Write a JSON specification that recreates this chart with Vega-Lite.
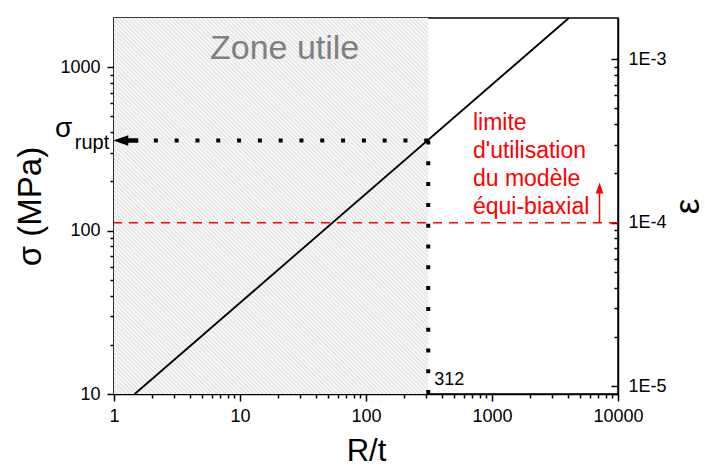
{
"$schema":"https://vega.github.io/schema/vega-lite/v6.json",
"width":504,"height":376,
"autosize":{"type":"none"},
"padding":{"left":114,"top":18,"right":87,"bottom":72},
"background":"white",
"config":{
 "view":{"stroke":"black","strokeWidth":1.5},
 "font":"Liberation Sans",
 "axis":{"grid":false,"domainColor":"black","domainWidth":1.5,"tickColor":"black","tickWidth":1.5,"labelColor":"black","titleColor":"black","labelFont":"Liberation Sans","titleFont":"Liberation Sans","labelFontSize":18,"titleFontWeight":"normal","labelFlush":false,"labelOverlap":false}
},
"layer":[
 {"layer":[
  {"data":{"values":[{"rt_from":1,"rt_to":312,"s_from":10,"s_to":2000}]},
   "mark":{"type":"rect","fill":{"gradient":"linear","x1":0,"y1":1,"x2":0.904,"y2":-0.080,"stops":[
{"offset":0.000,"color":"#dfdfdf"},{"offset":0.003,"color":"#fff"},{"offset":0.006,"color":"#dfdfdf"},{"offset":0.009,"color":"#fff"},{"offset":0.012,"color":"#dfdfdf"},{"offset":0.015,"color":"#fff"},{"offset":0.018,"color":"#dfdfdf"},{"offset":0.021,"color":"#fff"},{"offset":0.024,"color":"#dfdfdf"},{"offset":0.027,"color":"#fff"},
{"offset":0.030,"color":"#dfdfdf"},{"offset":0.033,"color":"#fff"},{"offset":0.036,"color":"#dfdfdf"},{"offset":0.039,"color":"#fff"},{"offset":0.042,"color":"#dfdfdf"},{"offset":0.045,"color":"#fff"},{"offset":0.048,"color":"#dfdfdf"},{"offset":0.051,"color":"#fff"},{"offset":0.054,"color":"#dfdfdf"},{"offset":0.057,"color":"#fff"},
{"offset":0.060,"color":"#dfdfdf"},{"offset":0.063,"color":"#fff"},{"offset":0.066,"color":"#dfdfdf"},{"offset":0.069,"color":"#fff"},{"offset":0.072,"color":"#dfdfdf"},{"offset":0.075,"color":"#fff"},{"offset":0.078,"color":"#dfdfdf"},{"offset":0.081,"color":"#fff"},{"offset":0.084,"color":"#dfdfdf"},{"offset":0.087,"color":"#fff"},
{"offset":0.090,"color":"#dfdfdf"},{"offset":0.093,"color":"#fff"},{"offset":0.096,"color":"#dfdfdf"},{"offset":0.099,"color":"#fff"},{"offset":0.102,"color":"#dfdfdf"},{"offset":0.105,"color":"#fff"},{"offset":0.108,"color":"#dfdfdf"},{"offset":0.111,"color":"#fff"},{"offset":0.114,"color":"#dfdfdf"},{"offset":0.117,"color":"#fff"},
{"offset":0.120,"color":"#dfdfdf"},{"offset":0.123,"color":"#fff"},{"offset":0.126,"color":"#dfdfdf"},{"offset":0.129,"color":"#fff"},{"offset":0.132,"color":"#dfdfdf"},{"offset":0.135,"color":"#fff"},{"offset":0.138,"color":"#dfdfdf"},{"offset":0.141,"color":"#fff"},{"offset":0.144,"color":"#dfdfdf"},{"offset":0.147,"color":"#fff"},
{"offset":0.150,"color":"#dfdfdf"},{"offset":0.153,"color":"#fff"},{"offset":0.156,"color":"#dfdfdf"},{"offset":0.159,"color":"#fff"},{"offset":0.162,"color":"#dfdfdf"},{"offset":0.165,"color":"#fff"},{"offset":0.168,"color":"#dfdfdf"},{"offset":0.171,"color":"#fff"},{"offset":0.174,"color":"#dfdfdf"},{"offset":0.177,"color":"#fff"},
{"offset":0.180,"color":"#dfdfdf"},{"offset":0.183,"color":"#fff"},{"offset":0.186,"color":"#dfdfdf"},{"offset":0.189,"color":"#fff"},{"offset":0.192,"color":"#dfdfdf"},{"offset":0.195,"color":"#fff"},{"offset":0.198,"color":"#dfdfdf"},{"offset":0.201,"color":"#fff"},{"offset":0.204,"color":"#dfdfdf"},{"offset":0.207,"color":"#fff"},
{"offset":0.210,"color":"#dfdfdf"},{"offset":0.213,"color":"#fff"},{"offset":0.216,"color":"#dfdfdf"},{"offset":0.219,"color":"#fff"},{"offset":0.222,"color":"#dfdfdf"},{"offset":0.225,"color":"#fff"},{"offset":0.228,"color":"#dfdfdf"},{"offset":0.231,"color":"#fff"},{"offset":0.234,"color":"#dfdfdf"},{"offset":0.237,"color":"#fff"},
{"offset":0.240,"color":"#dfdfdf"},{"offset":0.243,"color":"#fff"},{"offset":0.246,"color":"#dfdfdf"},{"offset":0.249,"color":"#fff"},{"offset":0.252,"color":"#dfdfdf"},{"offset":0.255,"color":"#fff"},{"offset":0.258,"color":"#dfdfdf"},{"offset":0.261,"color":"#fff"},{"offset":0.264,"color":"#dfdfdf"},{"offset":0.267,"color":"#fff"},
{"offset":0.270,"color":"#dfdfdf"},{"offset":0.273,"color":"#fff"},{"offset":0.276,"color":"#dfdfdf"},{"offset":0.279,"color":"#fff"},{"offset":0.282,"color":"#dfdfdf"},{"offset":0.285,"color":"#fff"},{"offset":0.288,"color":"#dfdfdf"},{"offset":0.291,"color":"#fff"},{"offset":0.294,"color":"#dfdfdf"},{"offset":0.297,"color":"#fff"},
{"offset":0.300,"color":"#dfdfdf"},{"offset":0.303,"color":"#fff"},{"offset":0.306,"color":"#dfdfdf"},{"offset":0.309,"color":"#fff"},{"offset":0.312,"color":"#dfdfdf"},{"offset":0.315,"color":"#fff"},{"offset":0.318,"color":"#dfdfdf"},{"offset":0.321,"color":"#fff"},{"offset":0.324,"color":"#dfdfdf"},{"offset":0.327,"color":"#fff"},
{"offset":0.330,"color":"#dfdfdf"},{"offset":0.333,"color":"#fff"},{"offset":0.336,"color":"#dfdfdf"},{"offset":0.339,"color":"#fff"},{"offset":0.342,"color":"#dfdfdf"},{"offset":0.345,"color":"#fff"},{"offset":0.348,"color":"#dfdfdf"},{"offset":0.351,"color":"#fff"},{"offset":0.354,"color":"#dfdfdf"},{"offset":0.357,"color":"#fff"},
{"offset":0.360,"color":"#dfdfdf"},{"offset":0.363,"color":"#fff"},{"offset":0.366,"color":"#dfdfdf"},{"offset":0.369,"color":"#fff"},{"offset":0.372,"color":"#dfdfdf"},{"offset":0.375,"color":"#fff"},{"offset":0.378,"color":"#dfdfdf"},{"offset":0.381,"color":"#fff"},{"offset":0.384,"color":"#dfdfdf"},{"offset":0.387,"color":"#fff"},
{"offset":0.390,"color":"#dfdfdf"},{"offset":0.393,"color":"#fff"},{"offset":0.396,"color":"#dfdfdf"},{"offset":0.399,"color":"#fff"},{"offset":0.402,"color":"#dfdfdf"},{"offset":0.405,"color":"#fff"},{"offset":0.408,"color":"#dfdfdf"},{"offset":0.411,"color":"#fff"},{"offset":0.414,"color":"#dfdfdf"},{"offset":0.417,"color":"#fff"},
{"offset":0.420,"color":"#dfdfdf"},{"offset":0.423,"color":"#fff"},{"offset":0.426,"color":"#dfdfdf"},{"offset":0.429,"color":"#fff"},{"offset":0.432,"color":"#dfdfdf"},{"offset":0.435,"color":"#fff"},{"offset":0.438,"color":"#dfdfdf"},{"offset":0.441,"color":"#fff"},{"offset":0.444,"color":"#dfdfdf"},{"offset":0.447,"color":"#fff"},
{"offset":0.450,"color":"#dfdfdf"},{"offset":0.453,"color":"#fff"},{"offset":0.456,"color":"#dfdfdf"},{"offset":0.459,"color":"#fff"},{"offset":0.462,"color":"#dfdfdf"},{"offset":0.465,"color":"#fff"},{"offset":0.468,"color":"#dfdfdf"},{"offset":0.471,"color":"#fff"},{"offset":0.474,"color":"#dfdfdf"},{"offset":0.477,"color":"#fff"},
{"offset":0.480,"color":"#dfdfdf"},{"offset":0.483,"color":"#fff"},{"offset":0.486,"color":"#dfdfdf"},{"offset":0.489,"color":"#fff"},{"offset":0.492,"color":"#dfdfdf"},{"offset":0.495,"color":"#fff"},{"offset":0.498,"color":"#dfdfdf"},{"offset":0.501,"color":"#fff"},{"offset":0.504,"color":"#dfdfdf"},{"offset":0.507,"color":"#fff"},
{"offset":0.510,"color":"#dfdfdf"},{"offset":0.513,"color":"#fff"},{"offset":0.516,"color":"#dfdfdf"},{"offset":0.519,"color":"#fff"},{"offset":0.522,"color":"#dfdfdf"},{"offset":0.525,"color":"#fff"},{"offset":0.528,"color":"#dfdfdf"},{"offset":0.531,"color":"#fff"},{"offset":0.534,"color":"#dfdfdf"},{"offset":0.537,"color":"#fff"},
{"offset":0.540,"color":"#dfdfdf"},{"offset":0.543,"color":"#fff"},{"offset":0.546,"color":"#dfdfdf"},{"offset":0.549,"color":"#fff"},{"offset":0.552,"color":"#dfdfdf"},{"offset":0.555,"color":"#fff"},{"offset":0.558,"color":"#dfdfdf"},{"offset":0.561,"color":"#fff"},{"offset":0.564,"color":"#dfdfdf"},{"offset":0.567,"color":"#fff"},
{"offset":0.570,"color":"#dfdfdf"},{"offset":0.573,"color":"#fff"},{"offset":0.576,"color":"#dfdfdf"},{"offset":0.579,"color":"#fff"},{"offset":0.582,"color":"#dfdfdf"},{"offset":0.585,"color":"#fff"},{"offset":0.588,"color":"#dfdfdf"},{"offset":0.591,"color":"#fff"},{"offset":0.594,"color":"#dfdfdf"},{"offset":0.597,"color":"#fff"},
{"offset":0.600,"color":"#dfdfdf"},{"offset":0.603,"color":"#fff"},{"offset":0.606,"color":"#dfdfdf"},{"offset":0.609,"color":"#fff"},{"offset":0.612,"color":"#dfdfdf"},{"offset":0.615,"color":"#fff"},{"offset":0.618,"color":"#dfdfdf"},{"offset":0.621,"color":"#fff"},{"offset":0.624,"color":"#dfdfdf"},{"offset":0.627,"color":"#fff"},
{"offset":0.630,"color":"#dfdfdf"},{"offset":0.633,"color":"#fff"},{"offset":0.636,"color":"#dfdfdf"},{"offset":0.639,"color":"#fff"},{"offset":0.642,"color":"#dfdfdf"},{"offset":0.645,"color":"#fff"},{"offset":0.648,"color":"#dfdfdf"},{"offset":0.651,"color":"#fff"},{"offset":0.654,"color":"#dfdfdf"},{"offset":0.657,"color":"#fff"},
{"offset":0.660,"color":"#dfdfdf"},{"offset":0.663,"color":"#fff"},{"offset":0.666,"color":"#dfdfdf"},{"offset":0.669,"color":"#fff"},{"offset":0.672,"color":"#dfdfdf"},{"offset":0.675,"color":"#fff"},{"offset":0.678,"color":"#dfdfdf"},{"offset":0.681,"color":"#fff"},{"offset":0.684,"color":"#dfdfdf"},{"offset":0.687,"color":"#fff"},
{"offset":0.690,"color":"#dfdfdf"},{"offset":0.693,"color":"#fff"},{"offset":0.696,"color":"#dfdfdf"},{"offset":0.699,"color":"#fff"},{"offset":0.702,"color":"#dfdfdf"},{"offset":0.705,"color":"#fff"},{"offset":0.708,"color":"#dfdfdf"},{"offset":0.711,"color":"#fff"},{"offset":0.714,"color":"#dfdfdf"},{"offset":0.717,"color":"#fff"},
{"offset":0.720,"color":"#dfdfdf"},{"offset":0.723,"color":"#fff"},{"offset":0.726,"color":"#dfdfdf"},{"offset":0.729,"color":"#fff"},{"offset":0.732,"color":"#dfdfdf"},{"offset":0.735,"color":"#fff"},{"offset":0.738,"color":"#dfdfdf"},{"offset":0.741,"color":"#fff"},{"offset":0.744,"color":"#dfdfdf"},{"offset":0.747,"color":"#fff"},
{"offset":0.750,"color":"#dfdfdf"},{"offset":0.753,"color":"#fff"},{"offset":0.756,"color":"#dfdfdf"},{"offset":0.759,"color":"#fff"},{"offset":0.762,"color":"#dfdfdf"},{"offset":0.765,"color":"#fff"},{"offset":0.768,"color":"#dfdfdf"},{"offset":0.771,"color":"#fff"},{"offset":0.774,"color":"#dfdfdf"},{"offset":0.777,"color":"#fff"},
{"offset":0.780,"color":"#dfdfdf"},{"offset":0.783,"color":"#fff"},{"offset":0.786,"color":"#dfdfdf"},{"offset":0.789,"color":"#fff"},{"offset":0.792,"color":"#dfdfdf"},{"offset":0.795,"color":"#fff"},{"offset":0.798,"color":"#dfdfdf"},{"offset":0.801,"color":"#fff"},{"offset":0.804,"color":"#dfdfdf"},{"offset":0.807,"color":"#fff"},
{"offset":0.810,"color":"#dfdfdf"},{"offset":0.813,"color":"#fff"},{"offset":0.816,"color":"#dfdfdf"},{"offset":0.819,"color":"#fff"},{"offset":0.822,"color":"#dfdfdf"},{"offset":0.825,"color":"#fff"},{"offset":0.828,"color":"#dfdfdf"},{"offset":0.831,"color":"#fff"},{"offset":0.834,"color":"#dfdfdf"},{"offset":0.837,"color":"#fff"},
{"offset":0.840,"color":"#dfdfdf"},{"offset":0.843,"color":"#fff"},{"offset":0.846,"color":"#dfdfdf"},{"offset":0.849,"color":"#fff"},{"offset":0.852,"color":"#dfdfdf"},{"offset":0.855,"color":"#fff"},{"offset":0.858,"color":"#dfdfdf"},{"offset":0.861,"color":"#fff"},{"offset":0.864,"color":"#dfdfdf"},{"offset":0.867,"color":"#fff"},
{"offset":0.870,"color":"#dfdfdf"},{"offset":0.873,"color":"#fff"},{"offset":0.876,"color":"#dfdfdf"},{"offset":0.879,"color":"#fff"},{"offset":0.882,"color":"#dfdfdf"},{"offset":0.885,"color":"#fff"},{"offset":0.888,"color":"#dfdfdf"},{"offset":0.891,"color":"#fff"},{"offset":0.894,"color":"#dfdfdf"},{"offset":0.897,"color":"#fff"},
{"offset":0.900,"color":"#dfdfdf"},{"offset":0.903,"color":"#fff"},{"offset":0.906,"color":"#dfdfdf"},{"offset":0.909,"color":"#fff"},{"offset":0.912,"color":"#dfdfdf"},{"offset":0.915,"color":"#fff"},{"offset":0.918,"color":"#dfdfdf"},{"offset":0.921,"color":"#fff"},{"offset":0.924,"color":"#dfdfdf"},{"offset":0.927,"color":"#fff"},
{"offset":0.930,"color":"#dfdfdf"},{"offset":0.933,"color":"#fff"},{"offset":0.936,"color":"#dfdfdf"},{"offset":0.939,"color":"#fff"},{"offset":0.942,"color":"#dfdfdf"},{"offset":0.945,"color":"#fff"},{"offset":0.948,"color":"#dfdfdf"},{"offset":0.951,"color":"#fff"},{"offset":0.954,"color":"#dfdfdf"},{"offset":0.957,"color":"#fff"},
{"offset":0.960,"color":"#dfdfdf"},{"offset":0.963,"color":"#fff"},{"offset":0.966,"color":"#dfdfdf"},{"offset":0.969,"color":"#fff"},{"offset":0.972,"color":"#dfdfdf"},{"offset":0.975,"color":"#fff"},{"offset":0.978,"color":"#dfdfdf"},{"offset":0.981,"color":"#fff"},{"offset":0.984,"color":"#dfdfdf"},{"offset":0.987,"color":"#fff"},
{"offset":0.990,"color":"#dfdfdf"},{"offset":0.993,"color":"#fff"},{"offset":0.996,"color":"#dfdfdf"},{"offset":0.999,"color":"#fff"}
]}},
   "encoding":{
    "x":{"field":"rt_from","type":"quantitative","title":"R/t","scale":{"type":"log","domain":[1,10000],"nice":false},
     "axis":{"orient":"bottom","values":[1,2,3,4,5,6,7,8,9,10,20,30,40,50,60,70,80,90,100,200,300,400,500,600,700,800,900,1000,2000,3000,4000,5000,6000,7000,8000,9000,10000],
      "labelExpr":"(datum.value == 1 || datum.value == 10 || datum.value == 100 || datum.value == 1000 || datum.value == 10000) ? format(datum.value, 'd') : ''",
      "tickSize":{"condition":{"test":"datum.value == 1 || datum.value == 10 || datum.value == 100 || datum.value == 1000 || datum.value == 10000","value":7},"value":4},
      "labelPadding":6,"titleFontSize":31,"titlePadding":11}},
    "x2":{"field":"rt_to"},
    "y":{"field":"s_from","type":"quantitative","title":"σ (MPa)","scale":{"type":"log","domain":[10,2000],"nice":false},
     "axis":{"orient":"left","values":[10,20,30,40,50,60,70,80,90,100,200,300,400,500,600,700,800,900,1000],
      "labelExpr":"(datum.value == 10 || datum.value == 100 || datum.value == 1000) ? format(datum.value, 'd') : ''",
      "tickSize":{"condition":{"test":"datum.value == 10 || datum.value == 100 || datum.value == 1000","value":7},"value":4},
      "labelPadding":7,"titleFontSize":33,"titlePadding":12}},
    "y2":{"field":"s_to"}
   }},
  {"data":{"values":[{"rt":1.46,"sigma":10},{"rt":4074,"sigma":2000}]},
   "mark":{"type":"line","color":"black","strokeWidth":1.8},
   "encoding":{"x":{"field":"rt","type":"quantitative","title":"R/t","scale":{"type":"log","domain":[1,10000],"nice":false}},
    "y":{"field":"sigma","type":"quantitative","title":"σ (MPa)","scale":{"type":"log","domain":[10,2000],"nice":false}}}},
  {"data":{"values":[{"rt":312,"rt_end":1.558,"sigma":356}]},
   "mark":{"type":"rule","color":"black","strokeWidth":4,"strokeDash":[4,16.8]},
   "encoding":{"x":{"field":"rt","type":"quantitative","title":"R/t","scale":{"type":"log","domain":[1,10000],"nice":false}},"x2":{"field":"rt_end"},
    "y":{"field":"sigma","type":"quantitative","title":"σ (MPa)","scale":{"type":"log","domain":[10,2000],"nice":false}}}},
  {"data":{"values":[{"rt":312,"sigma":356,"sigma_end":10}]},
   "mark":{"type":"rule","color":"black","strokeWidth":4,"strokeDash":[4,16.8]},
   "encoding":{"x":{"field":"rt","type":"quantitative","title":"R/t","scale":{"type":"log","domain":[1,10000],"nice":false}},
    "y":{"field":"sigma","type":"quantitative","title":"σ (MPa)","scale":{"type":"log","domain":[10,2000],"nice":false}},"y2":{"field":"sigma_end"}}},
  {"data":{"values":[{"rt":1.24,"sigma":356}]},
   "mark":{"type":"point","shape":"M-1,0L0.2,-0.42L0.2,-0.18L1,-0.18L1,0.18L0.2,0.18L0.2,0.42Z","size":625,"filled":true,"color":"black","opacity":1},
   "encoding":{"x":{"field":"rt","type":"quantitative","title":"R/t","scale":{"type":"log","domain":[1,10000],"nice":false}},
    "y":{"field":"sigma","type":"quantitative","title":"σ (MPa)","scale":{"type":"log","domain":[10,2000],"nice":false}}}},
  {"data":{"values":[{"rt":22.6,"sigma":1124,"label":"Zone utile"}]},
   "mark":{"type":"text","fontSize":34,"color":"#808080","align":"center","baseline":"alphabetic","font":"Liberation Sans"},
   "encoding":{"x":{"field":"rt","type":"quantitative","title":"R/t","scale":{"type":"log","domain":[1,10000],"nice":false}},
    "y":{"field":"sigma","type":"quantitative","title":"σ (MPa)","scale":{"type":"log","domain":[10,2000],"nice":false}},"text":{"field":"label","type":"nominal"}}},
  {"data":{"values":[{"rt":1,"sigma":356,"label":"σ"}]},
   "mark":{"type":"text","fontSize":28,"color":"black","align":"right","baseline":"alphabetic","dx":-41.7,"dy":-3,"font":"Liberation Sans"},
   "encoding":{"x":{"field":"rt","type":"quantitative","title":"R/t","scale":{"type":"log","domain":[1,10000],"nice":false}},
    "y":{"field":"sigma","type":"quantitative","title":"σ (MPa)","scale":{"type":"log","domain":[10,2000],"nice":false}},"text":{"field":"label","type":"nominal"}}},
  {"data":{"values":[{"rt":1,"sigma":356,"label":"rupt"}]},
   "mark":{"type":"text","fontSize":20,"color":"black","align":"right","baseline":"alphabetic","dx":-4.7,"dy":9,"font":"Liberation Sans"},
   "encoding":{"x":{"field":"rt","type":"quantitative","title":"R/t","scale":{"type":"log","domain":[1,10000],"nice":false}},
    "y":{"field":"sigma","type":"quantitative","title":"σ (MPa)","scale":{"type":"log","domain":[10,2000],"nice":false}},"text":{"field":"label","type":"nominal"}}},
  {"data":{"values":[{"rt":312,"sigma":10,"label":"312"}]},
   "mark":{"type":"text","fontSize":18,"color":"black","align":"left","baseline":"alphabetic","dx":6,"dy":-9,"font":"Liberation Sans"},
   "encoding":{"x":{"field":"rt","type":"quantitative","title":"R/t","scale":{"type":"log","domain":[1,10000],"nice":false}},
    "y":{"field":"sigma","type":"quantitative","title":"σ (MPa)","scale":{"type":"log","domain":[10,2000],"nice":false}},"text":{"field":"label","type":"nominal"}}},
  {"data":{"values":[{"rt":706,"sigma":410,"label":["limite","d'utilisation","du modèle","équi-biaxial"]}]},
   "mark":{"type":"text","fontSize":23,"color":"#ff0000","align":"left","baseline":"alphabetic","lineHeight":27.7,"font":"Liberation Sans"},
   "encoding":{"x":{"field":"rt","type":"quantitative","title":"R/t","scale":{"type":"log","domain":[1,10000],"nice":false}},
    "y":{"field":"sigma","type":"quantitative","title":"σ (MPa)","scale":{"type":"log","domain":[10,2000],"nice":false}},"text":{"field":"label","type":"nominal"}}}
 ]},
 {"layer":[
  {"data":{"values":[{"eps":0.0001}]},
   "mark":{"type":"rule","color":"#ff0000","strokeWidth":1.5,"strokeDash":[9,7]},
   "encoding":{"y":{"field":"eps","type":"quantitative","title":"ε","scale":{"type":"log","domain":[0.00000894,0.001788],"nice":false},
    "axis":{"orient":"right","values":[0.000009,0.00001,0.00002,0.00003,0.00004,0.00005,0.00006,0.00007,0.00008,0.00009,0.0001,0.0002,0.0003,0.0004,0.0005,0.0006,0.0007,0.0008,0.0009,0.001],
     "labelExpr":"datum.value == 0.00001 ? '1E-5' : datum.value == 0.0001 ? '1E-4' : datum.value == 0.001 ? '1E-3' : ''",
     "tickSize":{"condition":{"test":"datum.value == 0.00001 || datum.value == 0.0001 || datum.value == 0.001","value":-7},"value":-4},
     "labelPadding":17,"titleFontSize":35,"titleAngle":270,"titleBaseline":"top","titlePadding":4}}}},
  {"data":{"values":[{"rt":7136,"eps_from":0.0001,"eps_to":0.00016}]},
   "mark":{"type":"rule","color":"#ff0000","strokeWidth":1.5},
   "encoding":{"x":{"field":"rt","type":"quantitative","title":"R/t","scale":{"type":"log","domain":[1,10000],"nice":false}},
    "y":{"field":"eps_from","type":"quantitative","title":"ε","scale":{"type":"log","domain":[0.00000894,0.001788],"nice":false}},"y2":{"field":"eps_to"}}},
  {"data":{"values":[{"rt":7136,"eps":0.0001597}]},
   "mark":{"type":"point","shape":"M0,-1L0.55,0.6L-0.55,0.6Z","size":196,"filled":true,"color":"#ff0000","opacity":1},
   "encoding":{"x":{"field":"rt","type":"quantitative","title":"R/t","scale":{"type":"log","domain":[1,10000],"nice":false}},
    "y":{"field":"eps","type":"quantitative","title":"ε","scale":{"type":"log","domain":[0.00000894,0.001788],"nice":false}}}}
 ]}
],
"resolve":{"scale":{"y":"independent"}}
}
